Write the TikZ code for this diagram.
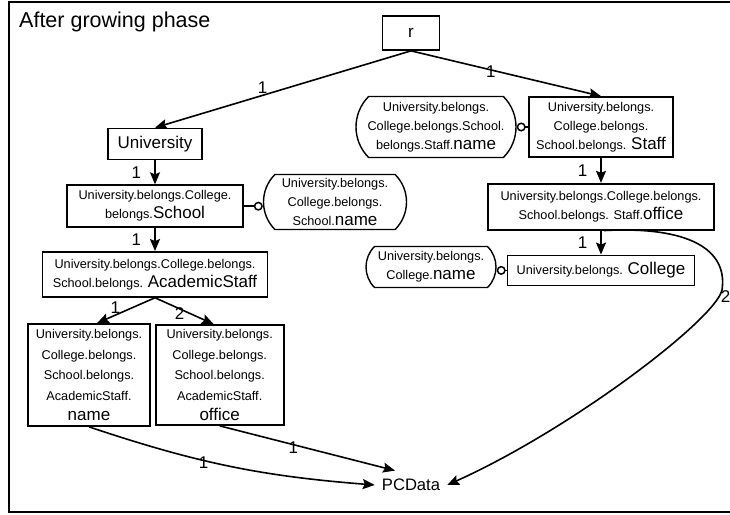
\documentclass[tikz,border=0pt]{standalone}
\usepackage{fontspec}
\setmainfont{Liberation Sans}
\usetikzlibrary{positioning}
\usetikzlibrary{arrows.meta}
\usetikzlibrary{shapes.misc}
\newcommand{\lgt}[1]{{\fontsize{17}{19}\selectfont #1}}
\tikzset{entity/.style={rectangle,draw=black,fill=white,line width=1.7pt,
inner sep=2pt,align=center,font=\fontsize{12.7}{19}\selectfont}}
\tikzset{attrib/.style={rounded rectangle,rounded rectangle arc length=90,draw=black,fill=white,
line width=1.4pt,inner sep=1pt,align=center,font=\fontsize{12.7}{19}\selectfont}}
\tikzset{edgelbl/.style={inner sep=1pt,font=\fontsize{17}{17}\selectfont}}
\tikzset{link/.style={line width=1.6pt,-{Stealth[length=12pt,width=10pt,inset=2pt]}}}
\tikzset{attlink/.style={line width=1.5pt,-{Circle[open,length=9pt]}}}

\begin{document}
\begin{tikzpicture}[x=1pt,y=-1pt]
        \useasboundingbox (0,0) rectangle (730,514);
        \draw[line width=1.6pt] (745,2) -- (9,2) -- (9,512) -- (745,512);
        \node[anchor=west,inner sep=0pt,font=\fontsize{21.5}{22}\selectfont] (title) at (19,22) {After growing phase};

        \node[entity,minimum width=57pt,minimum height=34pt,font=\fontsize{17}{19}\selectfont] (boxR) at (411,33) {r};

        \node[entity,minimum width=94pt,minimum height=31pt,font=\fontsize{17}{19}\selectfont] (boxUni) at (155,144) {University};
        \node[entity,minimum width=176pt,minimum height=42pt] (boxSchool) [below=24pt of boxUni] {University.belongs.College.\\belongs.\lgt{School}};
        \node[entity,minimum width=225pt,minimum height=45pt] (boxAcad) [below=23pt of boxSchool] {University.belongs.College.belongs.\\School.belongs. \lgt{AcademicStaff}};
        \node[entity,minimum width=122pt,minimum height=102pt,font=\fontsize{12.7}{20.5}\selectfont] (boxAcadName) at (89,375) {University.belongs.\\College.belongs.\\School.belongs.\\AcademicStaff.\\\lgt{name}};
        \node[entity,minimum width=128pt,minimum height=100pt,font=\fontsize{12.7}{20.5}\selectfont] (boxAcadOffice) [right=4pt of boxAcadName] {University.belongs.\\College.belongs.\\School.belongs.\\AcademicStaff.\\\lgt{office}};

        \node[entity,minimum width=144pt,minimum height=60pt] (boxStaff) at (601,127) {University.belongs.\\College.belongs.\\School.belongs. \lgt{Staff}};
        \node[entity,minimum width=226pt,minimum height=46pt] (boxStaffOffice) [below=25pt of boxStaff] {University.belongs.College.belongs.\\School.belongs. Staff.\lgt{office}};
        \node[entity,minimum width=187pt,minimum height=30pt] (boxCollege) [below=24pt of boxStaffOffice] {University.belongs. \lgt{College}};

        \node[attrib,minimum width=145pt,minimum height=55pt] (ovSchoolName) at (335,202) {University.belongs.\\College.belongs.\\School.\lgt{name}};
        \node[attrib,minimum width=162pt,minimum height=61pt] (ovStaffName) at (436,127) {University.belongs.\\College.belongs.School.\\belongs.Staff.\lgt{name}};
        \node[attrib,minimum width=132pt,minimum height=41pt] (ovCollegeName) at (431,267) {University.belongs.\\College.\lgt{name}};

        \node[inner xsep=7pt,font=\fontsize{16.6}{17}\selectfont] (boxPC) at (411,485) {PCData};

        % tree edges
        \draw[link] (boxR.south) -- node[edgelbl,above,pos=0.58] {1} (boxUni.north);
        \draw[link] (boxR.south) -- node[edgelbl,pos=0.42,yshift=-2pt] {1} (boxStaff.north);
        \draw[link] (boxUni.south) -- node[edgelbl,left=12pt] {1} (boxSchool.north);
        \draw[link] (boxSchool.south) -- node[edgelbl,left=12pt] {1} (boxAcad.north);
        \draw[link] (boxAcad.south) -- node[edgelbl,pos=0.4,left=10pt] {1} ([xshift=8pt]boxAcadName.north);
        \draw[link] (boxAcad.south) -- node[edgelbl,pos=0.6,left=4pt] {2} ([xshift=-6pt]boxAcadOffice.north);
        \draw[link] (boxStaff.south) -- node[edgelbl,left=12pt] {1} (boxStaffOffice.north);
        \draw[link] (boxStaffOffice.south) -- node[edgelbl,left=12pt] {1} (boxCollege.north);

        % to PCData
        \draw[link] (boxAcadName.south) to[bend right=7] node[edgelbl,pos=0.4,yshift=-2pt] {1} (boxPC.west);
        \draw[link] (boxAcadOffice.south) -- node[edgelbl,pos=0.42,yshift=-3pt] {1} ([xshift=-16pt,yshift=5pt]boxPC.north);
        \draw[link] ([xshift=3pt]boxStaffOffice.south) .. controls (690,226) and (728,250) .. (722,290)
            node[edgelbl,right=-3pt,yshift=-7pt] {2} .. controls (715,320) and (570,430) .. (boxPC.east);

        % attributes
        \draw[attlink] (boxSchool.east) -- (boxSchool.east -| ovSchoolName.west);
        \draw[attlink] (boxStaff.west) -- (boxStaff.west -| ovStaffName.east);
        \draw[attlink] (boxCollege.west) -- (boxCollege.west -| ovCollegeName.east);
\end{tikzpicture}
\end{document}
